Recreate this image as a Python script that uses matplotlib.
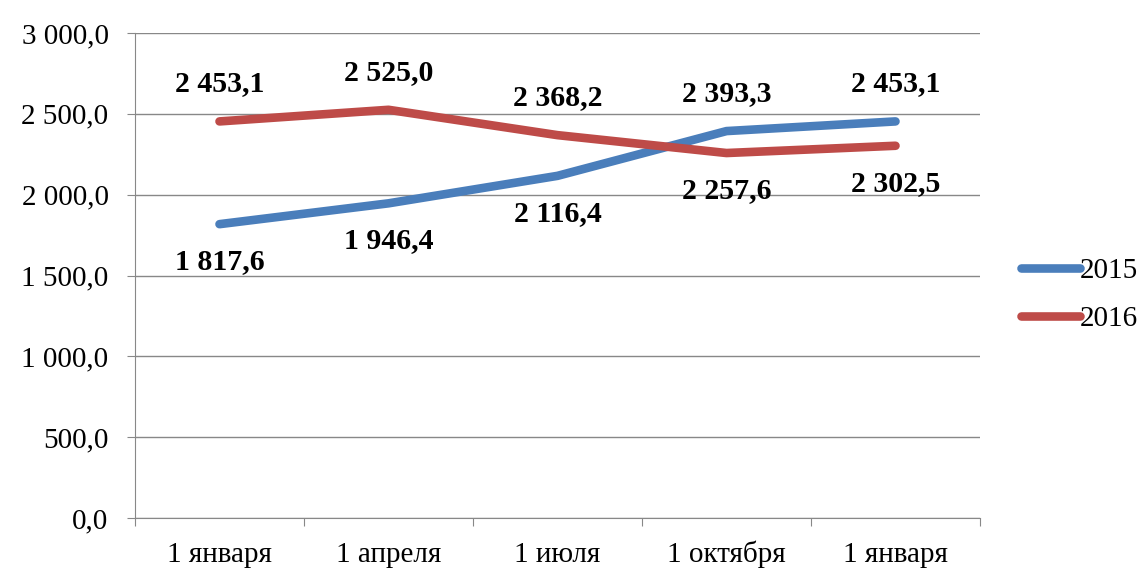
import matplotlib.pyplot as plt
from matplotlib.ticker import FixedLocator, NullFormatter

plt.rcParams['font.family'] = ['Liberation Serif', 'DejaVu Serif']

categories = ['1 января', '1 апреля', '1 июля', '1 октября', '1 января']
values_2015 = [1817.6, 1946.4, 2116.4, 2393.3, 2453.1]
values_2016 = [2453.1, 2525.0, 2368.2, 2257.6, 2302.5]
# +1 = label above the point, -1 = below
side_2015 = [-1, -1, -1, 1, 1]
side_2016 = [1, 1, 1, -1, -1]


def fmt(v):
    s = f'{v:,.1f}'
    return s.replace(',', ' ').replace('.', ',')


fig = plt.figure(figsize=(11.46, 5.71), dpi=100)
ax = fig.add_axes([135 / 1146, 53 / 571, 845 / 1146, 485 / 571])

x = range(len(categories))
ax.plot(x, values_2015, color='#4a7ebb', lw=6.2, solid_capstyle='round', label='2015')
ax.plot(x, values_2016, color='#be4b48', lw=6.2, solid_capstyle='round', label='2016')

for vals, sides in ((values_2015, side_2015), (values_2016, side_2016)):
    for i, (v, s) in enumerate(zip(vals, sides)):
        ax.annotate(fmt(v), (i, v), xytext=(0, 27 * s), textcoords='offset points',
                    ha='center', va='center', fontsize=21.5, fontweight='bold')

ax.set_xlim(-0.5, len(categories) - 0.5)
ax.set_ylim(0, 3000)
ax.set_yticks([0, 500, 1000, 1500, 2000, 2500, 3000])
ax.set_yticklabels([fmt(t) for t in ax.get_yticks()], fontsize=21)
ax.yaxis.grid(True, color='#888888', lw=1)
ax.set_axisbelow(True)

ax.xaxis.set_major_locator(FixedLocator([i - 0.5 for i in range(len(categories) + 1)]))
ax.xaxis.set_major_formatter(NullFormatter())
ax.xaxis.set_minor_locator(FixedLocator(list(x)))
ax.set_xticklabels(categories, minor=True, fontsize=21)
for lab in ax.get_xticklabels(minor=True):
    lab.set_verticalalignment('baseline')
ax.tick_params(axis='x', which='minor', length=0, pad=32)
ax.tick_params(axis='x', which='major', length=6, color='#888888')
ax.tick_params(axis='y', length=6, color='#888888', pad=13)

for sp in ('top', 'right'):
    ax.spines[sp].set_visible(False)
for sp in ('left', 'bottom'):
    ax.spines[sp].set_color('#888888')

fig.legend(loc='center left', bbox_to_anchor=(995 / 1146, 1 - 295 / 571), frameon=False,
           fontsize=21, handlelength=2.0, handletextpad=0.0, labelspacing=0.75)

fig.savefig('out.png', dpi=100, facecolor='white')
